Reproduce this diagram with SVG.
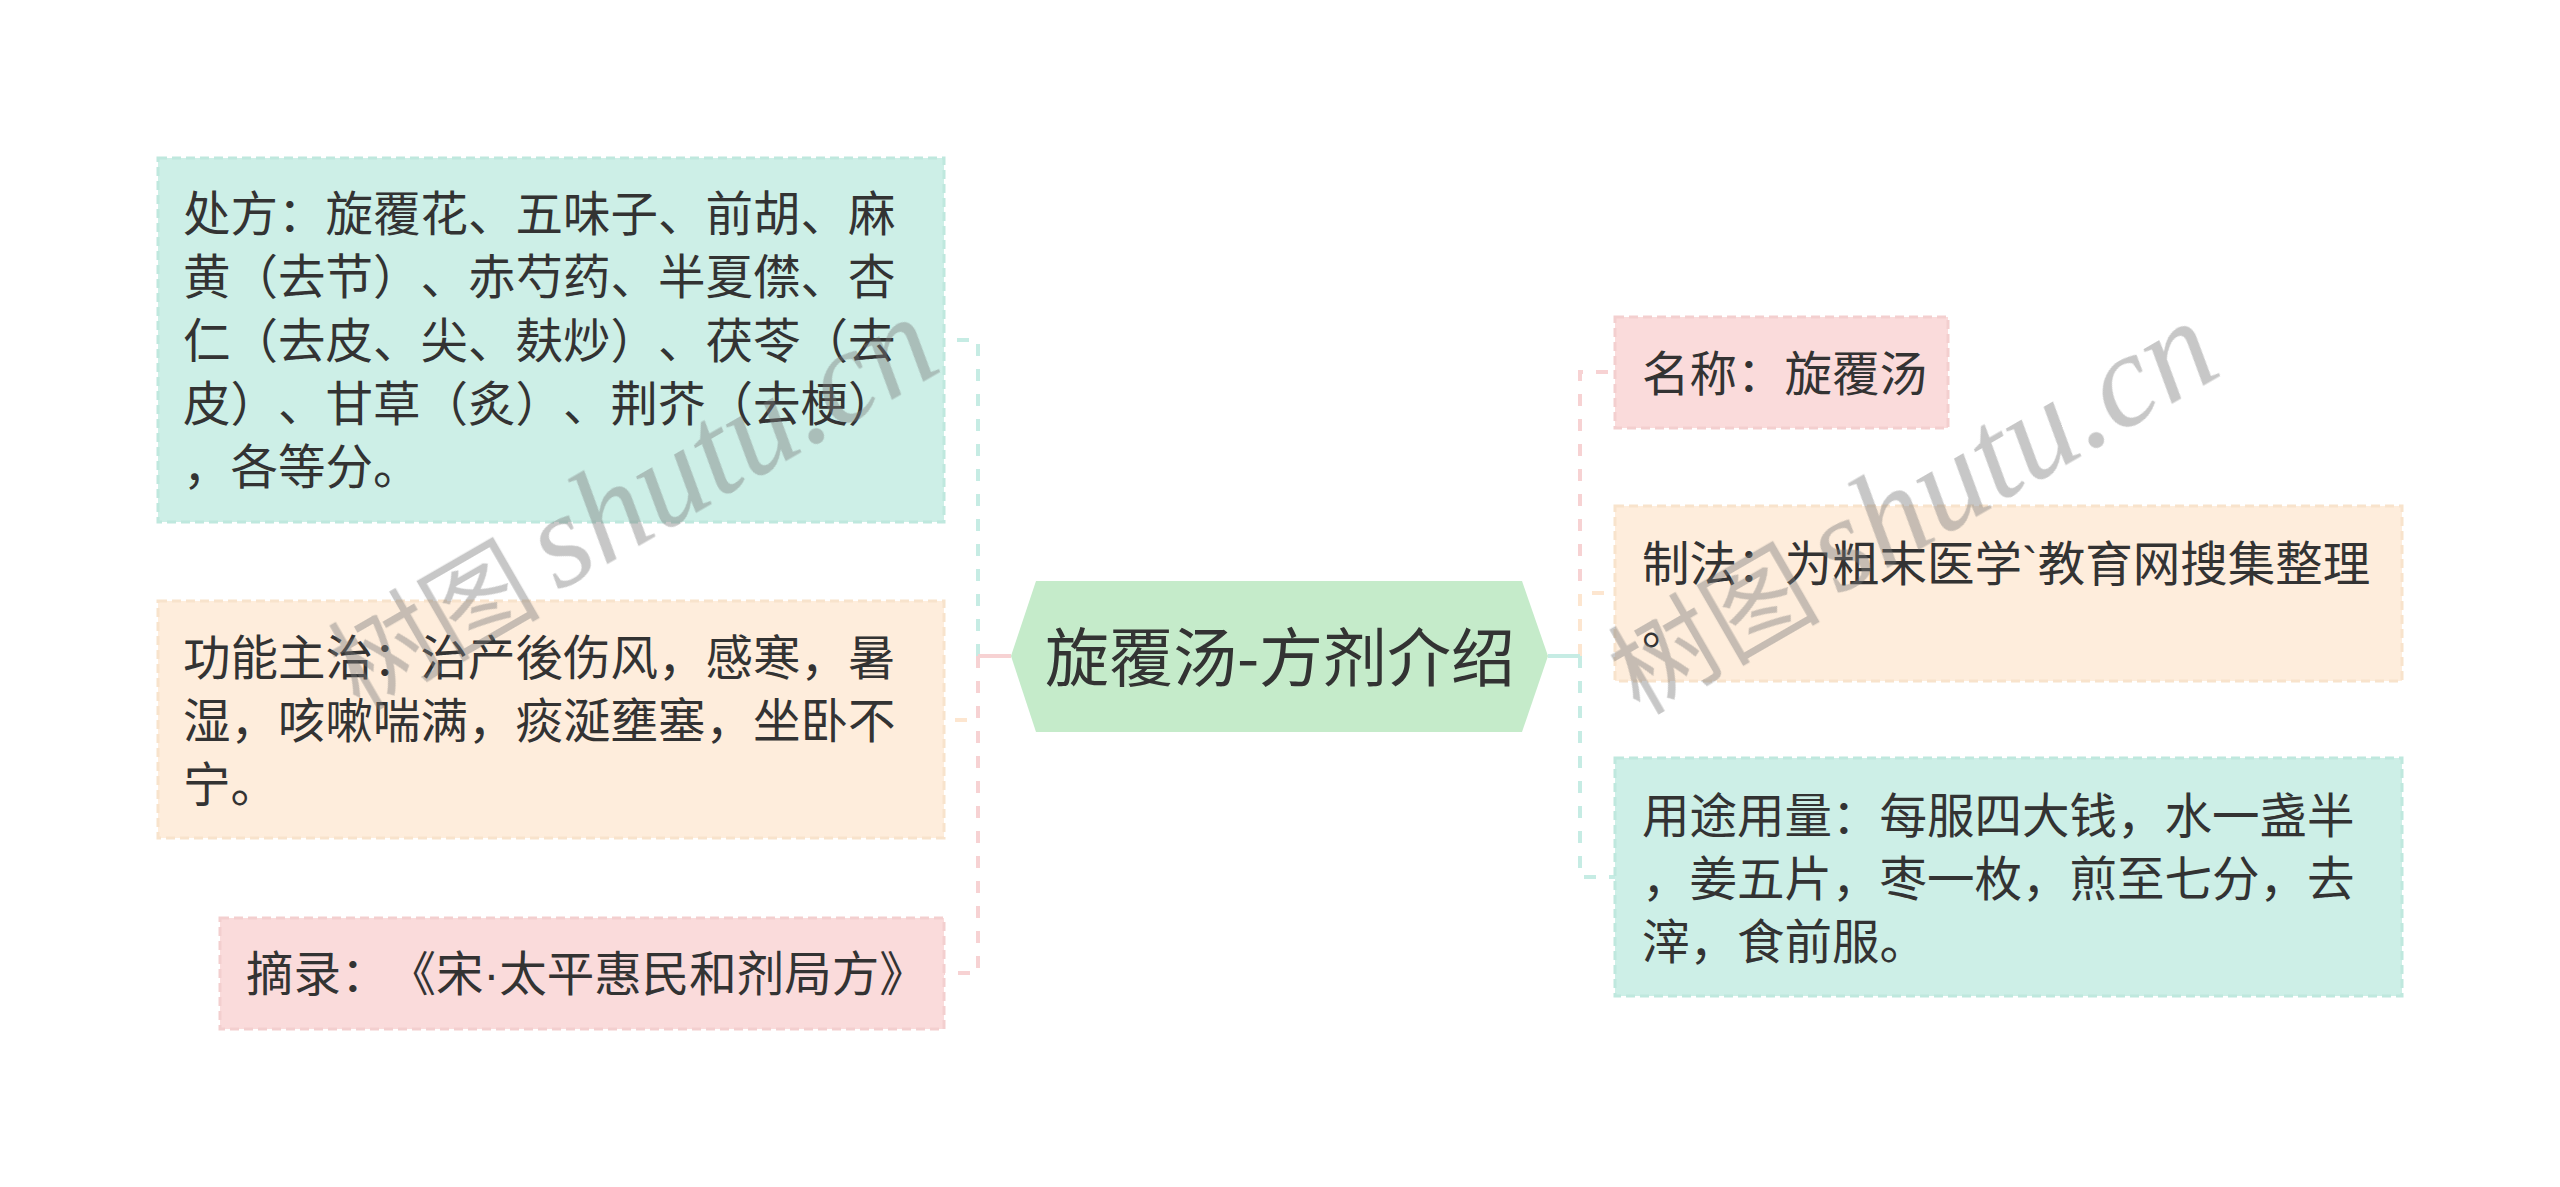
<svg xmlns="http://www.w3.org/2000/svg" width="2560" height="1187" viewBox="0 0 2560 1187">
<style>
text{text-spacing-trim:space-all}
.t{font-family:"Noto Sans CJK SC","Noto Sans",sans-serif;font-size:47.5px;fill:#333333}
.c{font-family:"Noto Sans CJK SC","Noto Sans",sans-serif;font-size:64px;fill:#333333}
.n{font-family:"Liberation Sans",sans-serif}
.teal{fill:#cdefe7;stroke:#bfe8de;stroke-width:3;stroke-dasharray:9 5}
.peach{fill:#feeddc;stroke:#f8e3cc;stroke-width:3;stroke-dasharray:9 5}
.pink{fill:#fadbdb;stroke:#f3cfcf;stroke-width:3;stroke-dasharray:9 5}
.lt{fill:none;stroke:#c6ece4;stroke-width:4}
.lp{fill:none;stroke:#fde6d0;stroke-width:4}
.lk{fill:none;stroke:#f7d2d3;stroke-width:4}
.d{stroke-dasharray:12 13}
.wm{fill:#7a7a7a;opacity:0.42}
</style>
<rect width="2560" height="1187" fill="#ffffff"/>
<g id="connectors">
<path class="lt" d="M1011,656 H978"/><path class="lt d" d="M978,656 V340 H944"/>
<path class="lp" d="M1011,656 H978"/><path class="lp d" d="M978,656 V720 H944"/>
<path class="lk" d="M1011,656 H978"/><path class="lk d" d="M978,656 V973 H944"/>
<path class="lk" d="M1548,656 H1580"/><path class="lk d" d="M1580,656 V372 H1615"/>
<path class="lp" d="M1548,656 H1580"/><path class="lp d" d="M1580,656 V593 H1615"/>
<path class="lt" d="M1548,656 H1580"/><path class="lt d" d="M1580,656 V877 H1615"/>
</g>
<g id="center">
<polygon points="1011,656 1036,581 1522,581 1548,656 1522,732 1036,732" fill="#c5ebca"/>
<text class="c" x="1280" y="681" text-anchor="middle">旋覆汤-方剂介绍</text>
</g>
<g id="node-chufang">
<rect class="teal" x="158" y="158" width="786" height="364"/>
<text class="t" x="183" y="231">处方：旋覆花、五味子、前胡、麻</text>
<text class="t" x="183" y="294">黄（去节）、赤芍药、半夏僸、杏</text>
<text class="t" x="183" y="358">仁（去皮、尖、麸炒）、茯苓（去</text>
<text class="t" x="183" y="421">皮）、甘草（炙）、荆芥（去梗）</text>
<text class="t" x="183" y="484">，各等分。</text>
</g>
<g id="node-gongneng">
<rect class="peach" x="158" y="601" width="786" height="237"/>
<text class="t" x="183" y="675">功能主治：治产後伤风，感寒，暑</text>
<text class="t" x="183" y="738">湿，咳嗽喘满，痰涎壅塞，坐卧不</text>
<text class="t" x="183" y="802">宁。</text>
</g>
<g id="node-zhailu">
<rect class="pink" x="220" y="918" width="724" height="111"/>
<text class="t" x="246" y="991">摘录：《宋<tspan class="n">·</tspan>太平惠民和剂局方》</text>
</g>
<g id="node-mingcheng">
<rect class="pink" x="1615" y="317" width="333" height="111"/>
<text class="t" x="1642" y="391">名称：旋覆汤</text>
</g>
<g id="node-zhifa">
<rect class="peach" x="1615" y="506" width="787" height="175"/>
<text class="t" x="1642" y="581">制法：为粗末医学<tspan class="n">`</tspan>教育网搜集整理</text>
<text class="t" x="1642" y="644">。</text>
</g>
<g id="node-yongtu">
<rect class="teal" x="1615" y="758" width="787" height="238"/>
<text class="t" x="1642" y="833">用途用量：每服四大钱，水一盏半</text>
<text class="t" x="1642" y="896">，姜五片，枣一枚，煎至七分，去</text>
<text class="t" x="1642" y="959">滓，食前服。</text>
</g>
<g id="watermark" class="wm">
<g transform="translate(558,592) rotate(-30)">
<text x="-232" y="4" font-family="Noto Sans CJK SC,sans-serif" font-size="106">树图</text>
<text x="0" y="0" font-family="Liberation Serif,serif" font-style="italic" font-size="133">shutu.cn</text>
</g>
<g transform="translate(1838,596) rotate(-30)">
<text x="-232" y="4" font-family="Noto Sans CJK SC,sans-serif" font-size="106">树图</text>
<text x="0" y="0" font-family="Liberation Serif,serif" font-style="italic" font-size="133">shutu.cn</text>
</g>
</g>
</svg>
